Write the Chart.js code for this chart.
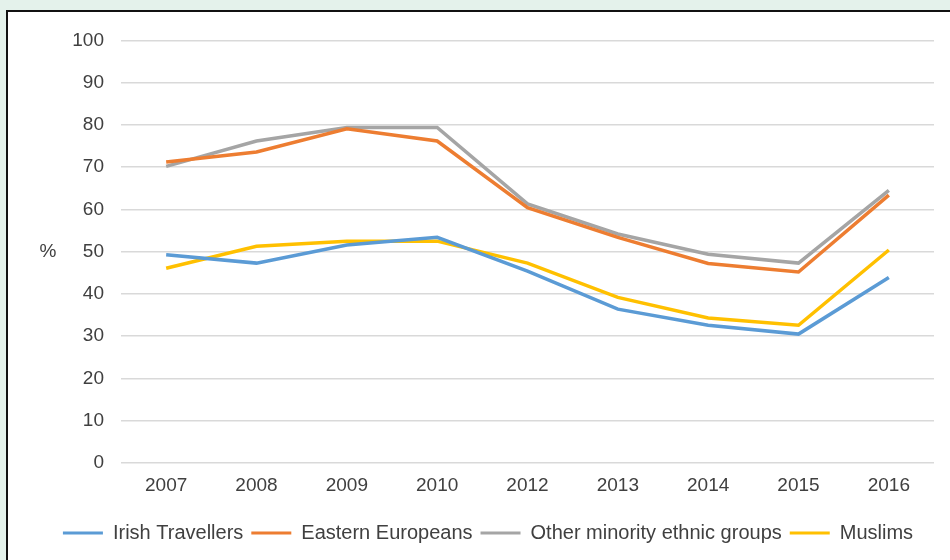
<!DOCTYPE html>
<html>
<head>
<meta charset="utf-8">
<script src="https://cdn.jsdelivr.net/npm/chart.js@4/dist/chart.umd.min.js"></script>
<style>
  html, body { margin: 0; padding: 0; }
  body { width: 950px; height: 560px; background: #e4f2eb; overflow: hidden; position: relative; }
  #panel {
    position: absolute; left: 6px; top: 10px; width: 944px; height: 550px;
    background: #fff; border-top: 2px solid #111; border-left: 2px solid #111;
  }
  #wrap { position: absolute; left: 0; top: 0; width: 942px; height: 548px; }
</style>
</head>
<body>
<div id="panel"><div id="wrap"><canvas id="chart"></canvas></div></div>
<script>
const years = ['2007', '2008', '2009', '2010', '2012', '2013', '2014', '2015', '2016'];
const irishTravellers = [49.3, 47.3, 51.6, 53.4, 45.4, 36.4, 32.6, 30.5, 43.9];
const easternEuropeans = [71.2, 73.6, 79.1, 76.2, 60.4, 53.4, 47.2, 45.2, 63.4];
const otherMinority = [70.2, 76.2, 79.4, 79.4, 61.3, 54.2, 49.4, 47.3, 64.5];
const muslims = [46.1, 51.3, 52.5, 52.5, 47.3, 39.2, 34.3, 32.6, 50.4];
const yTicks = [0, 10, 20, 30, 40, 50, 60, 70, 80, 90, 100];

const textColor = '#404040';
const tickFont = { family: '"Liberation Sans", Arial, sans-serif', size: 19 };
const legendFont = { family: '"Liberation Sans", Arial, sans-serif', size: 20 };

// "%" axis label, drawn horizontally like the original
const percentLabel = {
  id: 'percentLabel',
  afterDraw(chart) {
    const { ctx, chartArea } = chart;
    ctx.save();
    ctx.font = '19px "Liberation Sans", Arial, sans-serif';
    ctx.fillStyle = textColor;
    ctx.textAlign = 'center';
    ctx.textBaseline = 'middle';
    ctx.fillText('%', 40, (chartArea.top + chartArea.bottom) / 2);
    ctx.restore();
  }
};

function line(label, data, color) {
  return {
    label, data,
    borderColor: color,
    backgroundColor: color,
    borderWidth: 3.5,
    pointRadius: 0,
    tension: 0,
    fill: false
  };
}

new Chart(document.getElementById('chart'), {
  type: 'line',
  data: {
    labels: years,
    datasets: [
      line('Irish Travellers', irishTravellers, '#5b9bd5'),
      line('Eastern Europeans', easternEuropeans, '#ed7d31'),
      line('Other minority ethnic groups', otherMinority, '#a5a5a5'),
      line('Muslims', muslims, '#ffc000')
    ]
  },
  options: {
    responsive: true,
    maintainAspectRatio: false,
    animation: false,
    layout: { padding: { top: 27, right: 16, bottom: 7, left: 34 } },
    plugins: {
      tooltip: { enabled: false },
      legend: {
        position: 'bottom',
        labels: {
          color: textColor,
          font: legendFont,
          boxWidth: 40,
          boxHeight: 3,
          padding: 8,
          generateLabels(chart) {
            return chart.data.datasets.map((ds, i) => ({
              text: ds.label,
              fillStyle: ds.borderColor,
              strokeStyle: ds.borderColor,
              lineWidth: 0,
              fontColor: textColor,
              datasetIndex: i,
              hidden: false
            }));
          }
        }
      }
    },
    scales: {
      x: {
        offset: true,
        grid: { display: false, drawTicks: false },
        border: { display: false },
        ticks: { color: textColor, font: tickFont, padding: 11, maxRotation: 0 },
        afterFit(scale) { scale.height = 52; }
      },
      y: {
        min: 0,
        max: 100,
        afterBuildTicks(scale) { scale.ticks = yTicks.map(v => ({ value: v })); },
        grid: { color: '#d9d9d9', lineWidth: 1.5, drawTicks: false },
        border: { display: false },
        ticks: { color: textColor, font: tickFont, padding: 17 },
        afterFit(scale) { scale.width = 79; }
      }
    }
  },
  plugins: [percentLabel]
});
</script>
</body>
</html>
